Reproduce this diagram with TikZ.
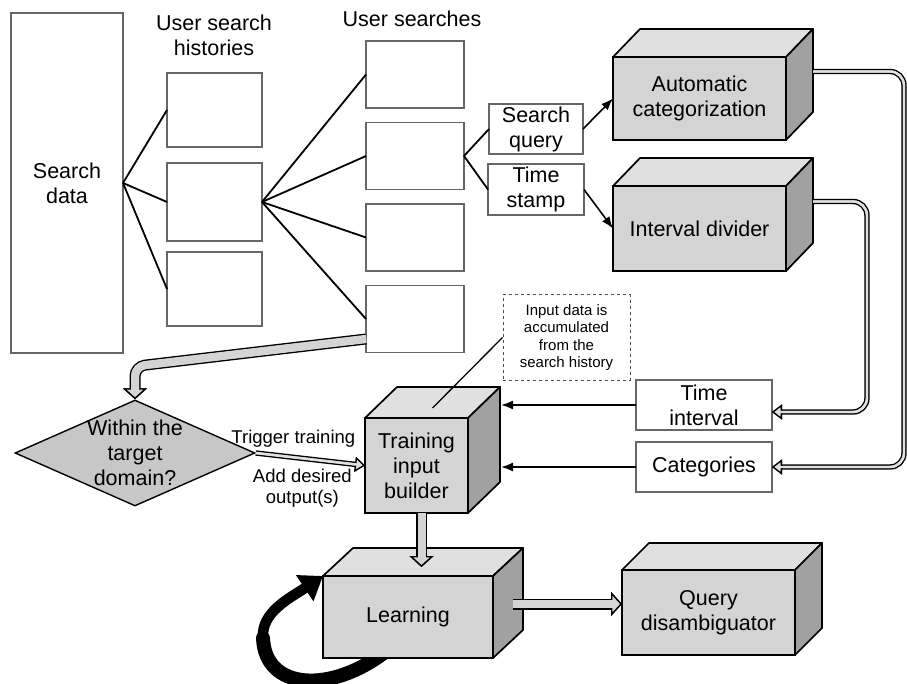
\documentclass[tikz,border=0pt]{standalone}
\usepackage{fontspec}
\setmainfont{Liberation Sans}
\usetikzlibrary{shapes,arrows,arrows.meta,positioning,calc}

\definecolor{cubefront}{gray}{0.83}
\definecolor{cubetop}{gray}{0.88}
\definecolor{cubeside}{gray}{0.63}
\definecolor{decisionfill}{gray}{0.78}
\definecolor{pipefill}{gray}{0.88}

\pgfdeclarelayer{behind}
\pgfsetlayers{behind,main}

% top and right faces of a box node: name, dx, dy
\newcommand{\cubesides}[3]{%
  \draw[cubeedge, fill=cubetop] (#1.north west) -- ++(#2,-#3) -- ($(#1.north east)+(#2,-#3)$) -- (#1.north east) -- cycle;
  \draw[cubeedge, fill=cubeside] (#1.north east) -- ++(#2,-#3) -- ($(#1.south east)+(#2,-#3)$) -- (#1.south east) -- cycle;
}

\begin{document}
\begin{tikzpicture}[
    x=1pt, y=-1pt,
    databox/.style={rectangle, draw=black!60, line width=1.3pt, fill=white, inner sep=0pt, outer sep=0pt, align=center},
    cube/.style={rectangle, draw=black, line width=1.7pt, fill=cubefront, inner sep=0pt, outer sep=0pt, align=center},
    cubeedge/.style={draw=black, line width=1.7pt, line join=round},
    decision/.style={diamond, draw=black, line width=1.4pt, fill=decisionfill, inner sep=0pt, minimum width=240pt, minimum height=106pt},
    note/.style={rectangle, draw=black!70, dashed, line width=1pt, inner sep=0pt, minimum width=127pt, minimum height=85pt, align=center, font={\fontsize{15pt}{17.5pt}\selectfont}},
    heading/.style={align=center, inner sep=0pt},
    edgelabel/.style={inner sep=2pt, font={\fontsize{18.5pt}{21pt}\selectfont}},
    link/.style={draw, line width=1.8pt},
    arrow/.style={draw, -{Latex[length=12pt, width=9pt]}, line width=1.6pt},
    pipe/.style={draw=pipefill, line width=2.4pt, rounded corners=14pt,
        preaction={draw=black, line width=5.4pt},
        postaction={draw=pipefill, line width=2.4pt, arrows=-, shorten >=8pt},
        -{Triangle[open, fill=pipefill, color=black, line width=1.3pt, length=10pt, width=15pt]}},
    fatpipe/.style={draw=cubefront, line width=8pt, rounded corners=10pt,
        preaction={draw=black, line width=11pt},
        postaction={draw=cubefront, line width=8pt, arrows=-, shorten >=9pt},
        -{Triangle[open, fill=cubefront, color=black, line width=1.4pt, length=11pt, width=24pt]}},
    node distance=81.5pt
]

  \tikzset{
    font={\fontsize{21.5pt}{25pt}\selectfont}
  }
\useasboundingbox (0,0) rectangle (907,684);

% Search data and histories
\node[databox, minimum width=112pt, minimum height=340pt] (sdata) at (67,183) {Search\\data};
\node[heading] (histtitle) at (214,35) {User search\\histories};
\node[databox, minimum width=95pt, minimum height=74pt] (hist1) at (214.5,110) {};
\node[databox, minimum width=95pt, minimum height=78pt] (hist2) at (214.5,202) {};
\node[databox, minimum width=95pt, minimum height=74pt] (hist3) at (214.5,289) {};

% User searches
\node[heading] (searchtitle) at (412,19) {User searches};
\node[databox, minimum width=98pt, minimum height=67pt] (search1) at (415,74.5) {};
\node[databox, minimum width=98pt, minimum height=67pt, below of=search1] (search2) {};
\node[databox, minimum width=98pt, minimum height=67pt, below of=search2] (search3) {};
\node[databox, minimum width=98pt, minimum height=67pt, below of=search3] (search4) {};

\node[databox, minimum width=94pt, minimum height=50pt] (query) at (536,129) {Search\\query};
\node[databox, minimum width=96pt, minimum height=51pt, below=10pt of query] (stamp) {Time\\stamp};

% Processing blocks
\node[cube, minimum width=173pt, minimum height=83pt] (autocat) at (699.5,98.5) {Automatic\\categorization};
\cubesides{autocat}{27}{28}
\node[cube, minimum width=173pt, minimum height=85pt] (divider) at (699.5,228.5) {Interval divider};
\cubesides{divider}{27}{28}

\node[note] (accnote) at (566.5,337.5) {Input data is\\accumulated\\from the\\search history};
\node[databox, minimum width=136pt, minimum height=50pt] (interval) at (704,405) {Time\\interval};
\node[databox, minimum width=136pt, minimum height=50pt, below=12pt of interval] (categories) {Categories};

\node[cube, minimum width=103pt, minimum height=95pt] (builder) at (416.5,465.5) {Training\\input\\builder};
\cubesides{builder}{32}{31}
\node[decision, label={[align=center, inner sep=0pt]center:{Within the\\target\\domain?}}] (domain) at (135,453) {};

\node[cube, minimum width=170pt, minimum height=82pt] (learning) at (408,617) {Learning};
\cubesides{learning}{30}{28}
\node[cube, minimum width=173pt, minimum height=85pt] (disamb) at (708.5,612.5) {Query\\disambiguator};
\cubesides{disamb}{27}{27}

\coordinate (outerrail) at (904,0);
\coordinate (innerrail) at (867,0);
\coordinate (loopturn) at (263,638);

% Lines
\foreach \n in {hist1,hist2,hist3}
  \draw[link] (sdata.east) -- (\n.west);
\foreach \n in {search1,search2,search3,search4}
  \draw[link] (hist2.east) -- (\n.west);
\draw[link] (search2.east) -- (query.west);
\draw[link] (search2.east) -- (stamp.west);
\draw[arrow] (query.east) -- (autocat.west);
\draw[arrow] (stamp.east) -- (divider.west);

\draw[pipe] ($(autocat.east)+(27,-27)$) -- ($(outerrail |- autocat.east)+(0,-27)$) |- (categories.east);
\draw[pipe] ($(divider.east)+(27,-27)$) -- ($(innerrail |- divider.east)+(0,-27)$) |- ($(interval.east)+(0,7)$);

\draw[arrow] (interval.west) -- ($(interval.west -| builder.east)+(33,0)$);
\draw[arrow] (categories.west) -- ($(categories.west -| builder.east)+(33,0)$);
\draw[line width=1.3pt] (accnote.west) -- ($(builder.north)+(16,-10)$);

\draw[fatpipe] ($(search4.west)+(0,20)$) -- ([yshift=33pt]domain.north) -- (domain.north);
\draw[pipe] (domain.east) -- node[above=9pt, edgelabel, xshift=-17pt] {Trigger training}
    node[below=7pt, edgelabel, align=center, xshift=-8pt] {Add desired\\output(s)} (builder.west);

\draw[fatpipe] ($(builder.south)+(5,0)$) -- ($(learning.north -| builder.south)+(5,-9)$);
\draw[fatpipe] ($(learning.east)+(20,-13)$) -- ($(disamb.west)+(0,-8.5)$);

% loop on learning, behind the box
\begin{pgfonlayer}{behind}
\draw[line width=14pt, line cap=round] ($(learning.south west)+(62,-6)$)
    .. controls (330,694) and (265,690) .. (loopturn);
\draw[line width=10.5pt, -{Triangle[length=22pt, width=30pt]}] (loopturn)
    .. controls (261,612) and (290,598) .. (learning.north west);
\end{pgfonlayer}

\end{tikzpicture}
\end{document}
